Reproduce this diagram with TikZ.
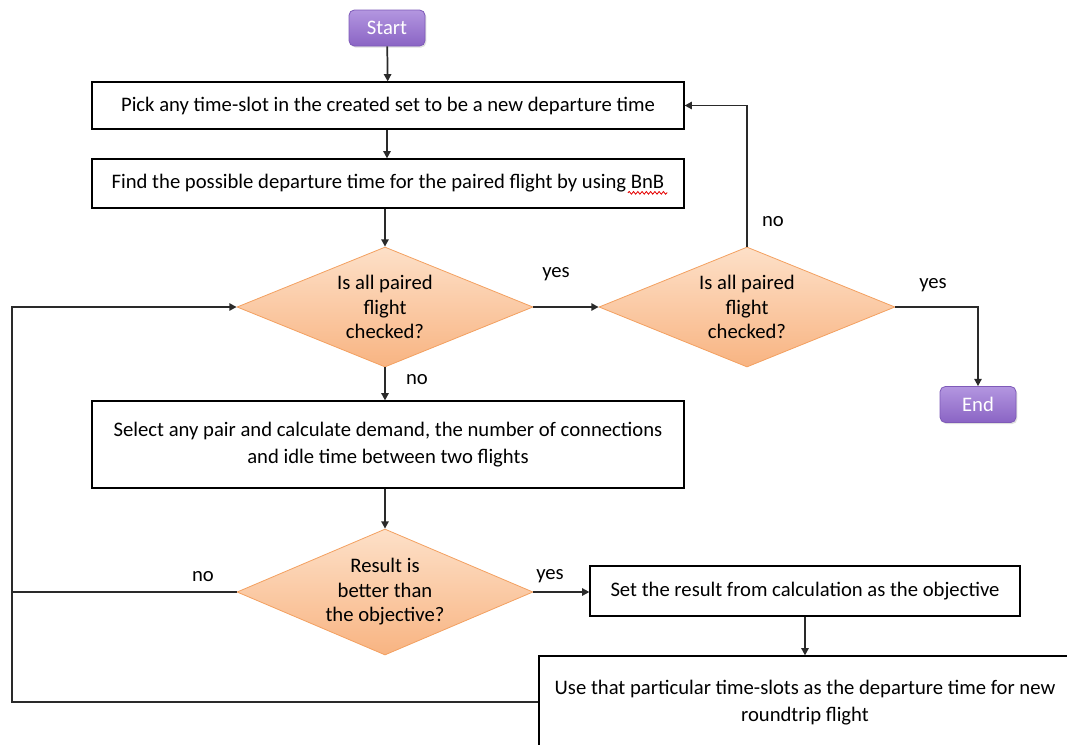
\documentclass[tikz,border=0pt]{standalone}
\usepackage{fontspec}
\setmainfont{Carlito}
\usetikzlibrary{shapes.geometric,arrows.meta,shadows,decorations.pathmorphing}

\definecolor{termtop}{HTML}{B396E0}
\definecolor{termbot}{HTML}{8A64C4}
\definecolor{termline}{HTML}{7E5AB8}
\definecolor{dectop}{HTML}{FDE0C8}
\definecolor{decbot}{HTML}{F8B482}
\definecolor{decline}{HTML}{F3A060}
\definecolor{wire}{HTML}{2A2A2A}

\tikzset{
  base/.style={font=\fontsize{15.5}{18.4}\selectfont, text=black},
  term/.style={base, rounded corners=4pt, draw=termline, line width=0.6pt,
    top color=termtop, bottom color=termbot, text=white,
    drop shadow={shadow xshift=1pt, shadow yshift=-1.2pt, opacity=0.25},
    minimum width=57pt, minimum height=27pt, inner sep=0pt},
  procbox/.style={base, draw=black, line width=0.9pt, fill=white,
    align=center, inner sep=0pt},
  twoline/.style={font=\fontsize{15.5}{20.3}\selectfont},
  decision/.style={base, diamond, aspect=2.47, draw=decline, line width=0.6pt,
    top color=dectop, bottom color=decbot, align=center, inner sep=0pt,
    minimum width=222pt, minimum height=90pt},
  wireline/.style={draw=wire, line width=1.3pt},
  flow/.style={wireline, -{Triangle[length=5.5pt,width=5.5pt]}},
  tag/.style={base, inner sep=0pt},
}

\begin{document}
\begin{tikzpicture}[x=0.75pt,y=-0.75pt]
\useasboundingbox (0,0) rectangle (1067,744);
\clip (0,0) rectangle (1067,744);

% terminals
\node[term] (start) at (387,28) {Start};
\node[term] (end) at (978,404.5) {End};

% process boxes
\node[procbox, minimum width=444pt, minimum height=35.25pt] (pick) at (388,105.5)
  {Pick any time-slot in the created set to be a new departure time};
\node[procbox, minimum width=444pt, minimum height=36.75pt] (find) at (388,183.5)
  {Find the possible departure time for the paired flight by using BnB};
\node[procbox, twoline, minimum width=444pt, minimum height=65.25pt] (select) at (388,444.5)
  {Select any pair and calculate demand, the number of connections\\and idle time between two flights};
\node[procbox, minimum width=322.5pt, minimum height=37.5pt] (setres) at (805,591)
  {Set the result from calculation as the objective};
\node[procbox, twoline, minimum width=399pt, minimum height=70.5pt] (use) at (805,703)
  {Use that particular time-slots as the departure time for new\\roundtrip flight};

% spell-check squiggle under BnB
\draw[red!90!black, line width=0.6pt, decorate,
  decoration={snake, amplitude=1pt, segment length=3.2pt}]
  ([xshift=-42.5pt, yshift=-7pt]find.east) -- ([xshift=-13pt, yshift=-7pt]find.east);

% decisions
\node[decision] (allA) at (385,307) {Is all paired\\flight\\checked?};
\node[decision] (allB) at (747,307) {Is all paired\\flight\\checked?};
\node[decision, minimum height=94.5pt] (better) at (385,592) {Result is\\better than\\the objective?};

% connectors
\draw[flow] (start) -- (pick);
\draw[flow] (pick.south -| 387,0) -- (find.north -| 387,0);
\draw[flow] (find.south -| allA.north) -- (allA.north);
\draw[flow] (allA) -- (allB);
\draw[flow] (allB.north) -- (allB.north |- pick.east) -- (pick.east);
\draw[flow] (allB.east) -- (allB.east -| end.north) -- (end.north);
\draw[flow] (allA.south) -- (select.north -| allA.south);
\draw[flow] (select.south -| better.north) -- (better.north);
\draw[flow] (better.east) -- (better.east -| setres.west);
\draw[flow] (setres.south) -- (use.north -| setres.south);
\coordinate (loopA) at (12,592);
\coordinate (loopB) at (12,702);
\draw[wireline] (better.west) -- (loopA);
\draw[flow] (use.west |- loopB) -- (loopB) -- (loopB |- allA.west) -- (allA.west);

% branch labels
\node[tag] (y1) at (556,274) {yes};
\node[tag] (n1) at (773,222) {no};
\node[tag] (y2) at (933,285) {yes};
\node[tag] (n2) at (417,380) {no};
\node[tag] (y3) at (550,576) {yes};
\node[tag] (n3) at (203,577) {no};
\end{tikzpicture}
\end{document}
